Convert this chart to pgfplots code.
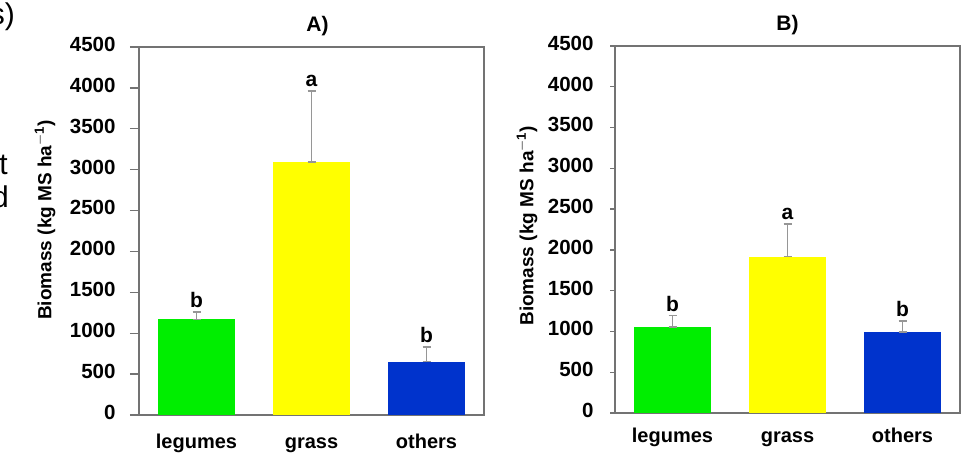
\documentclass[border=0pt]{standalone}
\usepackage{fontspec}
\setmainfont{Liberation Sans}
\usepackage{pgfplots}
\pgfplotsset{compat=1.18}

\definecolor{legc}{RGB}{0,238,0}
\definecolor{grac}{RGB}{255,255,0}
\definecolor{othc}{RGB}{0,51,204}
\definecolor{framec}{RGB}{115,115,115}
\definecolor{errc}{RGB}{150,150,150}

\pgfplotsset{
  bio/.style={
    scale only axis,
    xmin=-0.5, xmax=2.5, ymin=0, ymax=4500,
    ytick={0,500,...,4500},
    xtick={0,1,2}, xticklabels={legumes,grass,others},
    major x tick style={draw=none},
    ytick pos=left, tick align=outside,
    axis line style={framec, line width=1.4bp},
    y tick style={framec, line width=1.4bp},
    /pgf/number format/.cd, 1000 sep={}, assume math mode=true, /pgfplots/.cd,
    tick label style={font=\fontsize{20.5bp}{22bp}\selectfont\bfseries},
    typeset ticklabels with strut,
    xticklabel style={yshift=-6bp, font=\fontsize{20bp}{22bp}\selectfont\bfseries},
    ylabel={Biomass (kg MS ha\textsuperscript{$-$1})},
    ylabel style={font=\fontsize{19bp}{22bp}\selectfont\bfseries, anchor=center},
    title style={font=\fontsize{21bp}{22bp}\selectfont\bfseries, yshift=2bp},
  },
  bars/.style={ybar, bar width=77bp, draw=none, fill=#1,
    error bars/.cd, y dir=both, y explicit,
    error bar style={errc, line width=1.6bp},
    error mark options={rotate=90, errc, mark size=4bp, line width=1.6bp}},
  letters/.style={draw=none, nodes near coords, point meta=explicit symbolic,
    nodes near coords style={font=\fontsize{21bp}{22bp}\selectfont\bfseries, inner sep=4bp}},
}

\begin{document}
\begin{tikzpicture}
\useasboundingbox (0,0) rectangle (977bp,456bp);

% panel A
\begin{axis}[bio, at={(139bp,41bp)}, anchor=south west,
  width=345bp, height=368bp, major tick length=9bp, title={A)},
  title style={xshift=6bp},
  yticklabel style={xshift=-11bp},
  ylabel style={at={(axis description cs:-0.2725,0.53)}}]
\addplot[bars=legc] coordinates {(0,1170) += (0,88) -= (0,0)};
\addplot[bars=grac] coordinates {(1,3095) += (0,870) -= (0,0)};
\addplot[bars=othc] coordinates {(2,652) += (0,180) -= (0,0)};
\addplot[letters] coordinates {(0,1258)[b] (1,3965)[a] (2,832)[b]};
\end{axis}

% panel B
\begin{axis}[bio, at={(615bp,43bp)}, anchor=south west,
  width=345bp, height=367bp, major tick length=5bp, title={B)},
  yticklabel style={xshift=-13bp},
  ylabel style={at={(axis description cs:-0.2551,0.51)}}]
\addplot[bars=legc] coordinates {(0,1054) += (0,140) -= (0,0)};
\addplot[bars=grac] coordinates {(1,1917) += (0,400) -= (0,0)};
\addplot[bars=othc] coordinates {(2,990) += (0,135) -= (0,0)};
\addplot[letters] coordinates {(0,1194)[b] (1,2317)[a] (2,1125)[b]};
\end{axis}

% fragments of the neighbouring text at the left edge
\node[anchor=base east, inner sep=0pt, font=\fontsize{30bp}{33bp}\selectfont] at (15bp,431bp) {s)};
\node[anchor=base east, inner sep=0pt, font=\fontsize{30bp}{33bp}\selectfont] at (8bp,281bp) {t};
\node[anchor=base east, inner sep=0pt, font=\fontsize{30bp}{33bp}\selectfont] at (9bp,248bp) {d};
\end{tikzpicture}
\end{document}
